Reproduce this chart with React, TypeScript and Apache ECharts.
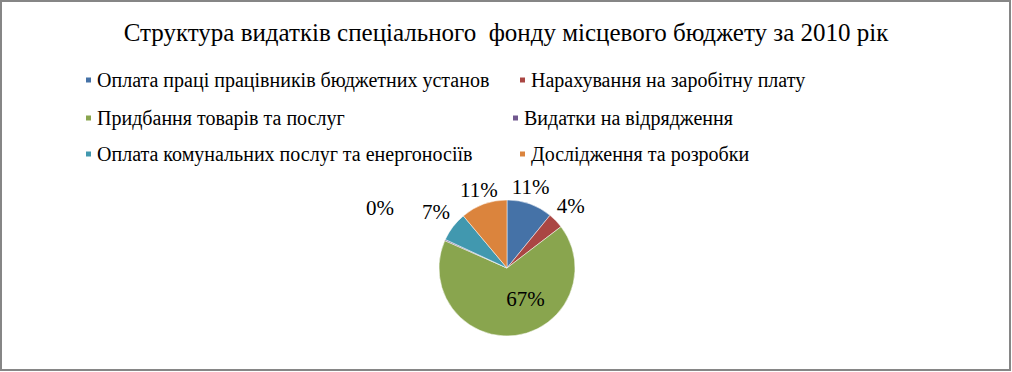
import React, { useEffect, useRef } from "react";
import * as echarts from "echarts";

const titleText = "Структура видатків спеціального  фонду місцевого бюджету за 2010 рік";
const categories = [
  "Оплата праці працівників бюджетних установ",
  "Нарахування на заробітну плату",
  "Придбання товарів та послуг",
  "Видатки на відрядження",
  "Оплата комунальних послуг та енергоносіїв",
  "Дослідження та розробки",
];
const values = [10.9, 3.7, 67.0, 0.3, 7.0, 11.1];
const colors = ["#4572A7", "#AA4643", "#89A54E", "#71588F", "#4198AF", "#DB843D"];
// label nudges (Excel "best fit" placement)
const labelShiftX = [-23, -4, 14, -46, 2, 19];
const labelShiftY = [-17, -15, -6, -32, -15, -14];

const FONT = "'Liberation Serif', 'Times New Roman', serif";

export default function App() {
  const ref = useRef<HTMLDivElement>(null);
  useEffect(() => {
    if (!ref.current) return;
    const chart = echarts.init(ref.current, undefined, { renderer: "svg" });
    const legendText = { fontFamily: FONT, fontSize: 20, color: "#000" };
    // legend item placement: [left, top] for each category
    const legendLeft = [84, 518, 84, 511, 84, 518];
    const legendTop = [70, 70, 108, 108, 144, 144];
    const legends = categories.map((name, i) => ({
      orient: "horizontal",
      icon: "rect",
      itemWidth: 7,
      itemHeight: 7,
      padding: 0,
      left: legendLeft[i],
      top: legendTop[i],
      textStyle: legendText,
      selectedMode: false,
      data: [{ name, textStyle: legendText }],
    }));
    chart.setOption({
      animation: false,
      color: colors,
      backgroundColor: "#fff",
      textStyle: { fontFamily: FONT },
      title: {
        text: titleText,
        left: "center",
        top: 15,
        textStyle: { fontFamily: FONT, fontSize: 25, fontWeight: "normal", color: "#000" },
      },
      legend: legends,
      graphic: [
        {
          type: "rect",
          shape: { x: 1, y: 1, width: 1009, height: 369 },
          style: { fill: "none", stroke: "#868686", lineWidth: 2 },
          silent: true,
        },
      ],
      series: [
        {
          type: "pie",
          center: [507, 268],
          radius: 68,
          startAngle: 90,
          clockwise: true,
          avoidLabelOverlap: false,
          itemStyle: { borderColor: "#fff", borderWidth: 0.5 },
          label: {
            show: true,
            position: "outside",
            fontFamily: FONT,
            fontSize: 21,
            color: "#000",
            formatter: (p: any) => Math.round(p.percent) + "%",
          },
          labelLayout: (p: any) => ({
            hideOverlap: false,
            dx: labelShiftX[p.dataIndex],
            dy: labelShiftY[p.dataIndex],
          }),
          labelLine: { show: false, length: 0, length2: 0 },
          data: categories.map((name, i) => {
            const d: any = { name, value: values[i] };
            if (i === 2) d.label = { position: "inside" };
            return d;
          }),
        },
      ],
    });
    return () => chart.dispose();
  }, []);
  return (
    <div
      ref={ref}
      style={{ position: "fixed", left: 0, top: 0, width: 1012, height: 372 }}
    />
  );
}
